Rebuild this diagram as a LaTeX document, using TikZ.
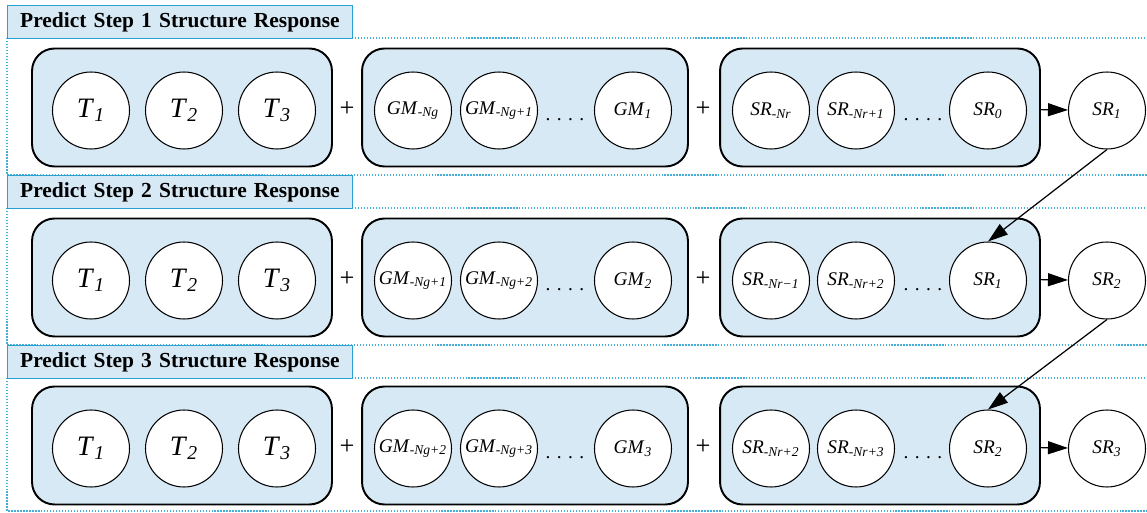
\documentclass[tikz,border=0pt]{standalone}
\usepackage{fontspec}
\setmainfont{Liberation Serif}
\usetikzlibrary{arrows.meta,positioning}
\definecolor{boxblue}{RGB}{214,233,245}
\definecolor{lineblue}{RGB}{40,160,210}
\definecolor{dotblue}{RGB}{70,175,215}
\newcommand{\lbl}[2]{\textit{#1}\textsubscript{\textit{#2}}}

\begin{document}
\begin{tikzpicture}[
    x=0.02cm, y=-0.02cm,
    steptitle/.style={rectangle, draw=lineblue, fill=boxblue, line width=0.8pt, anchor=north west, minimum height=0.66cm, inner xsep=0.25cm, text width=6.4cm, align=left, font=\fontsize{12.2}{13}\selectfont\bfseries},
    frame/.style={dotblue, densely dotted, line width=0.7pt},
    grpbox/.style={rectangle, draw, fill=boxblue, line width=1.1pt, rounded corners=0.45cm, minimum height=2.36cm},
    ball/.style={circle, draw, fill=white, line width=0.6pt, minimum size=1.54cm, inner sep=0pt, font=\fontsize{11}{11}\selectfont},
    tball/.style={ball, font=\fontsize{16}{16}\selectfont},
    arrow/.style={-{Triangle[length=4mm, width=2.6mm]}, line width=0.7pt}
]
    \useasboundingbox (0,0) rectangle (1147,513);
    \foreach \r/\ty/\fb/\ga/\gb/\gc/\sa/\sb/\sc/\so in {
        1/5/175/-Ng/-Ng+1/1/-Nr/-Nr+1/0/1,
        2/175/345/-Ng+1/-Ng+2/2/-Nr−1/-Nr+2/1/2,
        3/345/511/-Ng+2/-Ng+3/3/-Nr+2/-Nr+3/2/3}{
        \pgfmathsetmacro\cy{(\ty+33+\fb)/2+1}
        % dotted frame of the step
        \draw[frame] (7,\ty+33) -- (7,\fb) -- (1147,\fb);
        \draw[frame] (352,\ty+33) -- (1147,\ty+33);
        \node[steptitle] (title-\r) at (7,\ty) {Predict Step \r{} Structure Response};
        % the three input groups
        \node[grpbox, minimum width=6cm] (tbox-\r) at (182,\cy) {};
        \node[grpbox, minimum width=6.52cm] (gmbox-\r) at (525,\cy) {};
        \node[grpbox, minimum width=6.4cm] (srbox-\r) at (880,\cy) {};
        \foreach \i/\x in {1/91,2/184,3/277}
            \node[tball] (t\i-\r) at (\x,\cy+3) {\lbl{T}{\i}};
        \node[ball] (gm1-\r) at (413,\cy+3) {\lbl{GM}{\ga}};
        \node[ball] (gm2-\r) at (499,\cy+3) {\lbl{GM}{\gb}};
        \node[ball] (gm3-\r) at (633,\cy+3) {\lbl{GM}{\gc}};
        \node[ball] (sr1-\r) at (771,\cy+3) {\lbl{SR}{\sa}};
        \node[ball] (sr2-\r) at (856,\cy+3) {\lbl{SR}{\sb}};
        \node[ball] (sr3-\r) at (988,\cy+3) {\lbl{SR}{\sc}};
        \node[font=\fontsize{11}{11}\selectfont] (gdots-\r) at (565,\cy+12) {. . . .};
        \node[font=\fontsize{11}{11}\selectfont] (sdots-\r) at (923,\cy+12) {. . . .};
        \node[font=\fontsize{15}{15}\selectfont] (plusa-\r) at (347,\cy+2) {+};
        \node[font=\fontsize{15}{15}\selectfont] (plusb-\r) at (703,\cy+2) {+};
        % predicted response
        \node[ball] (out-\r) at (1107,\cy+3) {\lbl{SR}{\so}};
        \draw[arrow] (srbox-\r) -- (out-\r);
    }
    \draw[arrow] (out-1.south) -- (sr3-2.north);
    \draw[arrow] (out-2.south) -- (sr3-3.north);
\end{tikzpicture}
\end{document}
